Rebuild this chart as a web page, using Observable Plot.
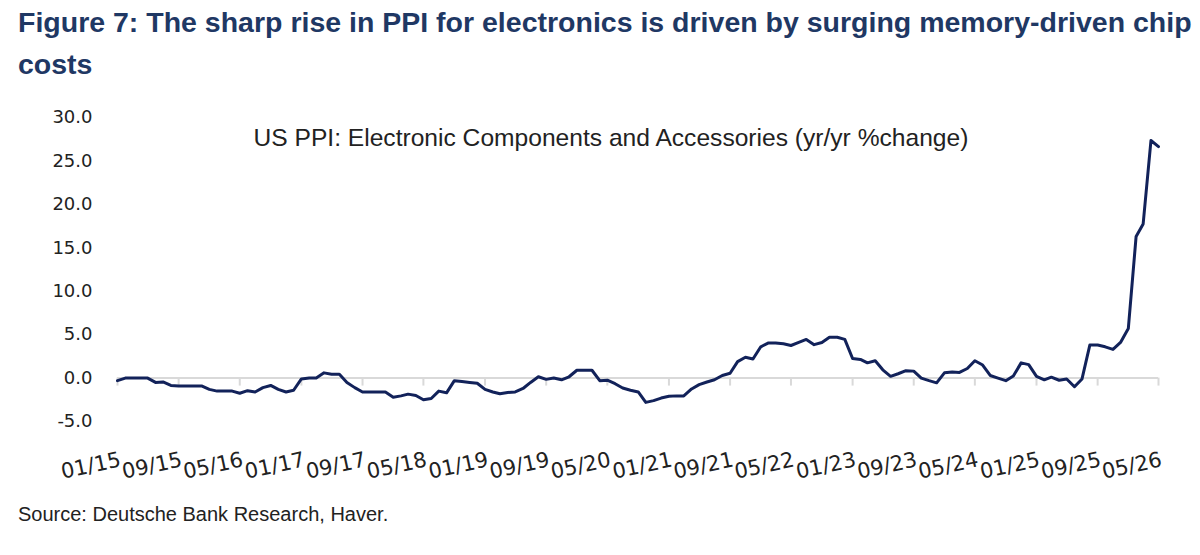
<!DOCTYPE html>
<html>
<head>
<meta charset="utf-8">
<script src="https://cdn.jsdelivr.net/npm/d3@7"></script>
<script src="https://cdn.jsdelivr.net/npm/@observablehq/plot@0.6"></script>
<style>
  html, body { margin: 0; padding: 0; background: #fff; }
  body { width: 1200px; height: 555px; position: relative; overflow: hidden; }
  #title { position: absolute; left: 18px; top: 1px; width: 1182px;
    font-family: "Liberation Sans", Arial, sans-serif; font-weight: bold; font-size: 28.5px;
    line-height: 42px; color: #1F3864; white-space: nowrap; }
  #chart { position: absolute; left: 0; top: 95px; }
  #source { position: absolute; left: 18px; top: 503px;
    font-family: "Liberation Sans", Arial, sans-serif; font-size: 20px; color: #222; }
</style>
</head>
<body>
<div id="title">Figure 7: The sharp rise in PPI for electronics is driven by surging memory-driven chip<br>costs</div>
<div id="chart"></div>
<div id="source">Source: Deutsche Bank Research, Haver.</div>
<script>
// Monthly observations, Jan 2015 .. May 2026
const startMonth = "2015-01";
const endMonth = "2026-05";
const ppiValues = [
  -0.3, 0.0, 0.0, 0.0, 0.0, -0.5, -0.45, -0.85, -0.9, -0.9, -0.9, -0.9,
  -1.3, -1.5, -1.5, -1.5, -1.75, -1.45, -1.6, -1.1, -0.85, -1.3, -1.6, -1.4,
  -0.1, 0.0, 0.0, 0.6, 0.45, 0.45, -0.5, -1.1, -1.6, -1.6, -1.6, -1.6,
  -2.2, -2.05, -1.85, -2.0, -2.5, -2.35, -1.5, -1.7, -0.3, -0.4, -0.5, -0.6,
  -1.3, -1.6, -1.8, -1.65, -1.6, -1.2, -0.5, 0.15, -0.15, 0.0, -0.2, 0.15,
  0.9, 0.9, 0.9, -0.3, -0.25, -0.65, -1.15, -1.4, -1.6, -2.8, -2.6, -2.3,
  -2.1, -2.05, -2.05, -1.25, -0.75, -0.45, -0.2, 0.3, 0.55, 1.9, 2.4, 2.2,
  3.6, 4.05, 4.05, 3.95, 3.75, 4.1, 4.45, 3.85, 4.1, 4.7, 4.7, 4.45,
  2.25, 2.15, 1.75, 2.0, 0.95, 0.2, 0.5, 0.85, 0.8, 0.0, -0.3, -0.55,
  0.6, 0.7, 0.65, 1.1, 2.0, 1.5, 0.3, 0.0, -0.3, 0.25, 1.75, 1.55,
  0.2, -0.2, 0.1, -0.25, -0.1, -1.0, -0.1, 3.8, 3.8, 3.6, 3.3, 4.1,
  5.7, 16.3, 17.75, 27.35, 26.65
];
const xTickLabels = ["01/15","09/15","05/16","01/17","09/17","05/18","01/19","09/19","05/20",
                     "01/21","09/21","05/22","01/23","09/23","05/24","01/25","09/25","05/26"];
const yTicks = [-5, 0, 5, 10, 15, 20, 25, 30];
const seriesLabel = "US PPI: Electronic Components and Accessories (yr/yr %change)";

const parseMonth = d3.utcParse("%Y-%m");
const parseTick = d3.utcParse("%m/%y");
const fmtTick = d3.utcFormat("%m/%y");
const start = parseMonth(startMonth);
const end = parseMonth(endMonth);
const months = d3.utcMonth.range(start, d3.utcMonth.offset(end, 1));
const data = months.map((date, i) => ({date, value: ppiValues[i]}));
const tickDates = xTickLabels.map(parseTick);

const chart = Plot.plot({
  width: 1200,
  height: 396,
  marginTop: 22,
  marginBottom: 70,
  marginLeft: 117,
  marginRight: 42,
  style: {background: "transparent", color: "#222", overflow: "visible"},
  x: {type: "utc", domain: [start, end], axis: null},
  y: {domain: [-5, 30], axis: null},
  marks: [
    Plot.axisY({ticks: yTicks, tickSize: 0, tickPadding: 25, label: null,
      tickFormat: d => d.toFixed(1), fontSize: 18, fontFamily: "DejaVu Sans", fill: "#222"}),
    Plot.ruleY([0], {stroke: "#d9d9d9", strokeWidth: 2}),
    Plot.ruleX(tickDates, {x: d => d, y1: 0, y2: 0, insetBottom: -8, stroke: "#d9d9d9", strokeWidth: 2}),
    Plot.text(tickDates, {x: d => d, frameAnchor: "bottom", text: d => fmtTick(d),
      textAnchor: "end", lineAnchor: "middle", rotate: -12, dx: 3, dy: 38,
      fontSize: 21, fontFamily: "DejaVu Sans", fill: "#222"}),
    Plot.line(data, {x: "date", y: "value", stroke: "#12225a", strokeWidth: 3,
      strokeLinejoin: "round", strokeLinecap: "round"}),
    Plot.text([seriesLabel], {frameAnchor: "top-left", text: d => d, dx: 136, dy: 21,
      textAnchor: "start", lineAnchor: "middle", fontSize: 24.6,
      fontFamily: "Liberation Sans", fill: "#222"})
  ]
});
document.getElementById("chart").appendChild(chart);
</script>
</body>
</html>
